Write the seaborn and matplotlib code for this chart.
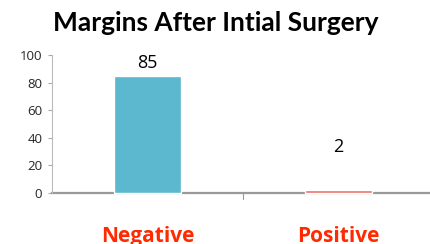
import matplotlib
matplotlib.use("Agg")
import matplotlib.pyplot as plt
import seaborn as sns
import pandas as pd

categories = ["Negative", "Positive"]
values = [85, 2]
label_y = [94.5, 33]  # text anchor heights for the value labels
yticks = [0, 20, 40, 60, 80, 100]

sns.set_theme(style="white")
plt.rcParams['font.family'] = ['Open Sans', 'DejaVu Sans']

df = pd.DataFrame({"cat": categories, "val": values})
fig = plt.figure(figsize=(4.31, 2.44), dpi=100)
ax = fig.add_axes([52/431, 51/244, 1 - 52/431, 138/244])
sns.barplot(data=df, x="cat", y="val", hue="cat", palette=["#5BB8CE", "#E8736C"],
            width=0.35, legend=False, ax=ax, saturation=1, zorder=5)
for p in ax.patches:
    p.set_zorder(5)
    p.set_clip_on(False)
ax.set_xlim(-0.5, -0.5 + 379/191)
ax.set_ylim(0, 100)
ax.set_yticks(yticks)
ax.set_xlabel("")
ax.set_ylabel("")
ax.tick_params(axis="y", labelsize=9.5, length=3, width=0.8, color="#AAAAAA", left=True, pad=4)
ax.tick_params(axis="x", labelsize=15, colors="#FF2A00", pad=24, length=0)
for lbl in ax.get_xticklabels():
    lbl.set_fontweight("bold")
    lbl.set_color("#FF2A00")
for s in ["top", "right"]:
    ax.spines[s].set_visible(False)
ax.spines["left"].set_color("#BBBBBB")
ax.spines["left"].set_linewidth(0.8)
ax.spines["bottom"].set_color("#999999")
ax.spines["bottom"].set_linewidth(1.6)
ax.spines["bottom"].set_zorder(1)
ax.axvline(0.5, ymin=-0.04, ymax=0, color="#999999", lw=0.8, clip_on=False)
for i, (v, ly) in enumerate(zip(values, label_y)):
    ax.text(i, ly, str(v), ha="center", va="center", fontsize=13, color="black")
fig.text(0.5, 0.905, "Margins After Intial Surgery", ha="center", va="center",
         fontsize=19, fontweight="bold", color="black", family=["Lato", "DejaVu Sans"])
fig.savefig("out.png", dpi=100)
